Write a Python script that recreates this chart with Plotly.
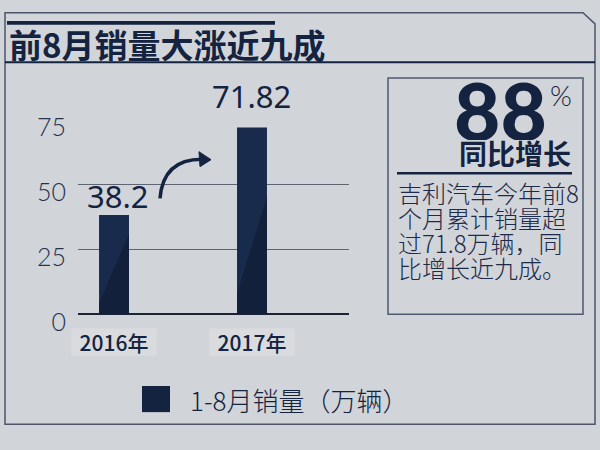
import plotly.graph_objects as go

# data
categories = ["2016年", "2017年"]
sales = [38.2, 71.82]
y_ticks = [0, 25, 50, 75]
series_name = "1-8月销量（万辆）"
title_text = "前8月销量大涨近九成"
growth_value = "88"
growth_unit = "%"
growth_label = "同比增长"
note_lines = ["吉利汽车今年前8", "个月累计销量超", "过71.8万辆，同", "比增长近九成。"]

W, H = 600, 450
NAVY = "#14233f"
BAR = "#182b4d"
BAR_DARK = "#12203b"
BG = "#d1d4d9"
CJK = "Noto Sans CJK SC"
BAR_W = 0.217


def px(x):
    return x / W


def py(y):
    return 1 - y / H


fig = go.Figure(go.Bar(
    x=categories, y=sales, name=series_name,
    width=BAR_W, marker=dict(color=BAR, line=dict(width=0)),
    showlegend=False, hoverinfo="skip",
))

shapes = [
    # outer frame with cut corner
    dict(type="path", xref="paper", yref="paper",
         path=f"M {px(5)},{py(446)} L {px(5)},{py(5)} L {px(583)},{py(5)} "
              f"L {px(595)},{py(17)} L {px(595)},{py(446)} Z",
         line=dict(color="#4c566a", width=1.5)),
    # title bar + underline
    dict(type="rect", xref="paper", yref="paper", x0=px(7), x1=px(275), y0=py(18), y1=py(14),
         fillcolor=NAVY, line=dict(width=0)),
    dict(type="line", xref="paper", yref="paper", x0=px(5), x1=px(595), y0=py(58), y1=py(58),
         line=dict(color=NAVY, width=2)),
    # right box
    dict(type="rect", xref="paper", yref="paper", x0=px(388), x1=px(583), y0=py(328), y1=py(75),
         line=dict(color="#4f5970", width=1.5)),
    dict(type="line", xref="paper", yref="paper", x0=px(397), x1=px(572), y0=py(177), y1=py(177),
         line=dict(color=NAVY, width=2.5)),
    # curved arrow
    dict(type="path", xref="paper", yref="paper",
         path=f"M {px(160)},{py(204)} Q {px(163)},{py(162)} {px(202)},{py(162)}",
         line=dict(color=NAVY, width=3.5)),
    dict(type="path", xref="paper", yref="paper",
         path=f"M {px(199)},{py(154)} L {px(211)},{py(162.5)} L {px(200)},{py(170)} Z",
         fillcolor=NAVY, line=dict(color=NAVY, width=1)),
    # legend swatch
    dict(type="rect", xref="paper", yref="paper", x0=px(142), x1=px(170), y0=py(433), y1=py(405),
         fillcolor=NAVY, line=dict(width=0)),
]

# darker diagonal shading on the lower part of each bar
shade = [(0.11, 0.81), (0.11, 0.63)]
for i, v in enumerate(sales):
    lo, hi = shade[i]
    x0, x1 = i - BAR_W / 2, i + BAR_W / 2
    shapes.append(dict(type="path", xref="x", yref="y", layer="above",
                       path=f"M {x0},{lo * v} L {x1},{hi * v} L {x1},0 L {x0},0 Z",
                       fillcolor=BAR_DARK, line=dict(width=0)))

ann = [
    dict(text=title_text, x=px(7), y=py(39), xanchor="left", yanchor="middle",
         font=dict(family=CJK, size=33, color=NAVY, weight="bold")),
    dict(text=growth_value, x=px(549), y=py(109), xanchor="right", yanchor="middle", height=60,
         font=dict(family="Lato", size=80, color=NAVY, weight=900)),
    dict(text=growth_unit, x=px(548), y=py(93), xanchor="left", yanchor="middle",
         font=dict(family="Lato", size=28, color=NAVY, weight=300)),
    dict(text=growth_label, x=px(573), y=py(155), xanchor="right", yanchor="middle", height=28,
         font=dict(family=CJK, size=28, color=NAVY, weight="bold")),
    dict(text=series_name, x=px(188), y=py(419), xanchor="left", yanchor="middle",
         font=dict(family=CJK, size=26, color=NAVY, weight=300)),
]
for i, line in enumerate(note_lines):
    ann.append(dict(text=line, x=px(396), y=py(197 + i * 26.7), xanchor="left", yanchor="middle",
                    height=26,
                    font=dict(family=CJK, size=24, color="#1c2b4a", weight=300)))
# x category labels with light boxes
for c in categories:
    ann.append(dict(text=c, x=c, xref="x", y=py(358), yanchor="middle",
                    bgcolor="#d9dbdf", width=82, height=24,
                    font=dict(family=CJK, size=21, color=NAVY, weight=500)))
# value labels
shifts = {0: (4, 19), 1: (-1, 32)}
for i, (c, v) in enumerate(zip(categories, sales)):
    dx, dy = shifts[i]
    ann.append(dict(text=f"{v:g}", x=c, y=v, xref="x", yref="y", yanchor="middle",
                    xshift=dx, yshift=dy,
                    font=dict(family="Noto Sans", size=31, color=NAVY)))
for a in ann:
    a.setdefault("xref", "paper")
    a.setdefault("yref", "paper")
    a["showarrow"] = False

fig.update_layout(
    width=W, height=H, margin=dict(l=0, r=0, t=0, b=0),
    paper_bgcolor=BG, plot_bgcolor=BG,
    shapes=shapes, annotations=ann,
    xaxis=dict(domain=[px(78), px(349)], range=[-0.261, 1.703], type="category",
               showticklabels=False, showgrid=False, zeroline=False, showline=False),
    yaxis=dict(domain=[py(328.3), py(119.3)], range=[0, 75], tickvals=y_ticks,
               showgrid=True, gridcolor="#5d6474", gridwidth=1,
               zeroline=True, zerolinecolor="#1c2433", zerolinewidth=2,
               ticks="", ticklabelstandoff=11, ticklabelshift=8,
               tickfont=dict(family="Lato", size=25, color="#26324c", weight=300)),
)

# drop the browser's default body margin so the 600x450 figure fills the page
page_css = (
    "var s=document.createElement('style');"
    "s.textContent='html,body{margin:0;padding:0;overflow:hidden;background:%s;}';"
    "document.head.appendChild(s);" % BG
)
fig.write_html("out.html", config={"displayModeBar": False}, post_script=page_css)
